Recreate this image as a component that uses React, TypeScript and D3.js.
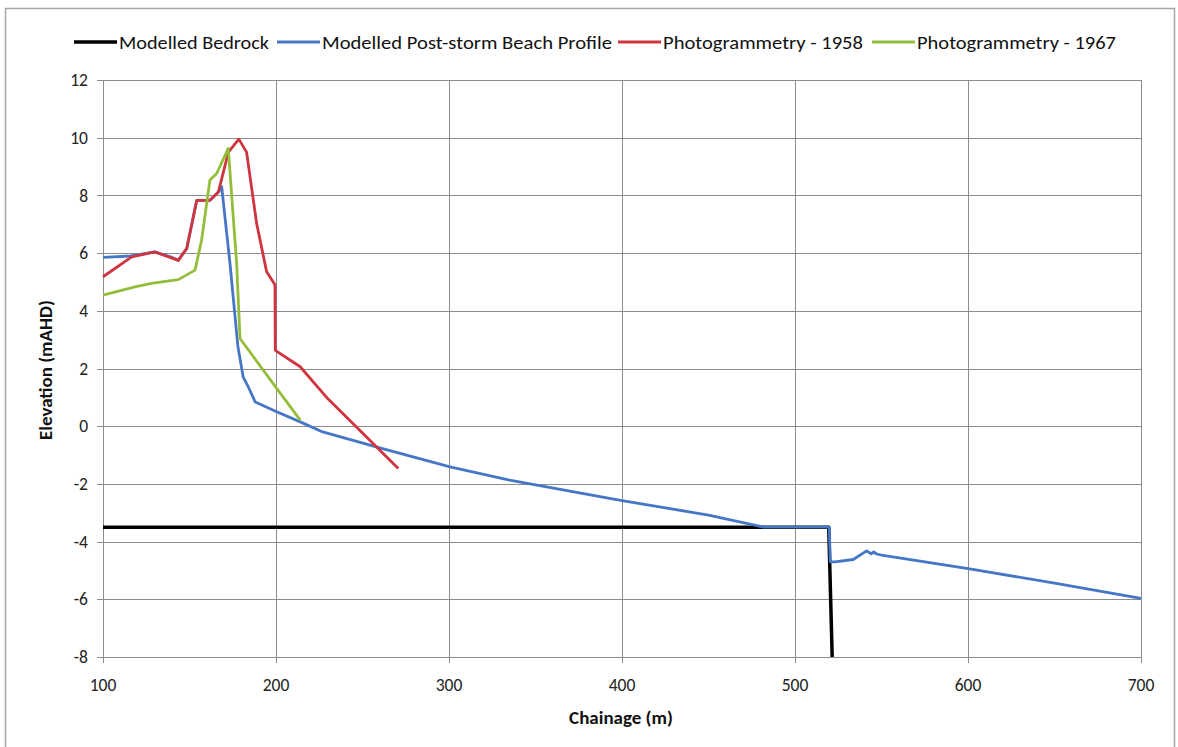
import * as d3 from 'd3';

// Chainage (m) / elevation (mAHD)
const bedrockX = [100, 519.5, 521.5];
const bedrockY = [-3.5, -3.5, -8];

const beachX = [100, 116, 130, 140, 143.5, 148.4, 154.2, 161.8, 166.7, 168.6, 173.4, 178, 181, 184, 188, 200.4, 214, 227, 260, 300.6, 335, 400, 450, 482, 519.8, 520.4, 523, 533.7, 541.4, 544, 545.5, 547.2, 550, 599.2, 650, 700];
const beachY = [5.85, 5.9, 6.04, 5.85, 5.75, 6.16, 7.83, 7.83, 8.12, 8.3, 5.64, 2.75, 1.71, 1.36, 0.84, 0.5, 0.15, -0.2, -0.75, -1.41, -1.87, -2.58, -3.08, -3.5, -3.5, -4.7, -4.7, -4.62, -4.32, -4.42, -4.36, -4.43, -4.47, -4.93, -5.44, -5.97];

const photo1958X = [100, 116.6, 130, 143.5, 148.4, 154.2, 161.8, 166.7, 172.5, 178.5, 183, 188.8, 194.6, 199.4, 199.6, 214, 230, 270.7];
const photo1958Y = [5.18, 5.87, 6.04, 5.75, 6.16, 7.83, 7.83, 8.12, 9.5, 9.95, 9.5, 7.03, 5.35, 4.9, 2.63, 2.06, 0.95, -1.47];

const photo1967X = [100, 118.5, 128, 143.5, 153.2, 157, 161.8, 165.7, 172.4, 177.3, 179.2, 200.4, 214];
const photo1967Y = [4.54, 4.83, 4.95, 5.08, 5.41, 6.45, 8.53, 8.76, 9.63, 5.6, 3.04, 1.31, 0.21];

const xTicks = [100, 200, 300, 400, 500, 600, 700];
const yTicks = [-8, -6, -4, -2, 0, 2, 4, 6, 8, 10, 12];

const series = [
  { name: 'Modelled Bedrock', xs: bedrockX, ys: bedrockY, color: '#000000', w: 3.5, lx: 74, tw: 150 },
  { name: 'Modelled Post-storm Beach Profile', xs: beachX, ys: beachY, color: '#4677c6', w: 2.8, lx: 277, tw: 290 },
  { name: 'Photogrammetry - 1958', xs: photo1958X, ys: photo1958Y, color: '#d0343f', w: 2.8, lx: 618, tw: 200 },
  { name: 'Photogrammetry - 1967', xs: photo1967X, ys: photo1967Y, color: '#95bd3c', w: 2.8, lx: 872, tw: 199 },
];

const font = "Carlito, Calibri, Lato, sans-serif";

const App = () => {
  const width = 1178;
  const height = 747;
  const x = d3.scaleLinear().domain([100, 700]).range([103, 1141]);
  const y = d3.scaleLinear().domain([-8, 12]).range([657, 80]);

  const path = (xs: number[], ys: number[]) =>
    d3
      .line<number>()
      .x((i) => x(xs[i]))
      .y((i) => y(ys[i]))(xs.map((_, i) => i)) || '';

  return (
    <svg
      width={width}
      height={height}
      style={{ position: 'absolute', left: 0, top: 0, background: '#fff' }}
      fontFamily={font}
    >
      <rect x={5.5} y={8.5} width={1169} height={750} fill="#fff" stroke="#a6a6a6" strokeWidth={1.5} />

      {/* gridlines */}
      {yTicks.map((t) => (
        <line key={'gy' + t} x1={x(100) - 6} x2={x(700)} y1={Math.round(y(t)) + 0.5} y2={Math.round(y(t)) + 0.5} stroke="#8c8c8c" strokeWidth={1} />
      ))}
      {xTicks.map((t) => (
        <line key={'gx' + t} x1={Math.round(x(t)) + 0.5} x2={Math.round(x(t)) + 0.5} y1={y(12)} y2={y(-8) + 6} stroke="#8c8c8c" strokeWidth={1} />
      ))}

      {/* tick labels */}
      {yTicks.map((t) => (
        <text key={'ly' + t} x={88} y={y(t)} dy="0.35em" textAnchor="end" fontSize={17.5} fill="#222">
          {t}
        </text>
      ))}
      {xTicks.map((t) => (
        <text key={'lx' + t} x={x(t)} y={685} dy="0.35em" textAnchor="middle" fontSize={17.5} fill="#222">
          {t}
        </text>
      ))}

      <text x={621} y={717} dy="0.35em" textAnchor="middle" fontSize={19} fontWeight="bold" fill="#111">
        Chainage (m)
      </text>
      <text transform={`translate(45,370) rotate(-90)`} dy="0.35em" textAnchor="middle" fontSize={19} fontWeight="bold" fill="#111">
        Elevation (mAHD)
      </text>

      {/* series */}
      {series.map((s) => (
        <path key={s.name} d={path(s.xs, s.ys)} fill="none" stroke={s.color} strokeWidth={s.w} strokeLinejoin="round" />
      ))}

      {/* legend */}
      {series.map((s) => (
        <g key={'lg' + s.name}>
          <line x1={s.lx} x2={s.lx + 43} y1={42} y2={42} stroke={s.color} strokeWidth={s.w} />
          <text x={s.lx + 45} y={42} dy="0.35em" fontSize={19} textLength={s.tw} lengthAdjust="spacingAndGlyphs" fill="#111">
            {s.name}
          </text>
        </g>
      ))}
    </svg>
  );
};

export default App;
